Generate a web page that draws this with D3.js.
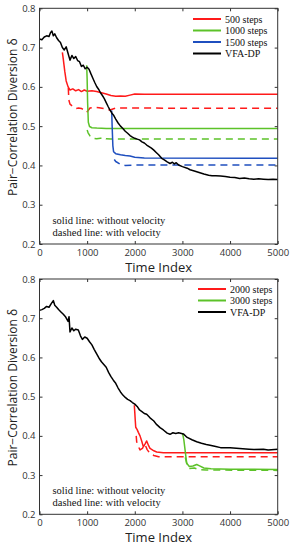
<!DOCTYPE html>
<html>
<head>
<meta charset="utf-8">
<script src="https://cdn.jsdelivr.net/npm/d3@7"></script>
<style>
  body { margin: 0; background: #fff; }
  svg text { font-family: "Open Sans", sans-serif; }
  .serif { font-family: "Liberation Serif", "Times New Roman", serif !important; }
</style>
</head>
<body>
<div id="container"></div>
<script>
// chart size
const width = 294;
const height = 550;

// tick labels
const xTicks = [0, 1000, 2000, 3000, 4000, 5000];
const yTicks = [0.2, 0.3, 0.4, 0.5, 0.6, 0.7, 0.8];

// ---- top panel data ----
const topVfaT = [0, 50, 100, 150, 200, 230, 260, 290, 320, 360, 400, 440, 480, 520, 560, 600, 640, 680, 720, 760, 800, 840, 880, 920, 960, 1000, 1040, 1080, 1120, 1160, 1200, 1240, 1280, 1320, 1360, 1400, 1440, 1480, 1520, 1560, 1600, 1650, 1700, 1750, 1800, 1850, 1900, 1950, 2000, 2050, 2100, 2150, 2200, 2250, 2300, 2350, 2400, 2450, 2500, 2565, 2620, 2680, 2740, 2790, 2830, 2870, 2920, 3000, 3100, 3160, 3250, 3350, 3450, 3550, 3620, 3700, 3800, 3900, 4000, 4100, 4200, 4300, 4400, 4500, 4600, 4700, 4800, 4900, 5000];
const topVfaV = [0.722, 0.72, 0.727, 0.73, 0.728, 0.738, 0.742, 0.73, 0.735, 0.725, 0.718, 0.713, 0.70, 0.694, 0.702, 0.685, 0.668, 0.68, 0.672, 0.677, 0.667, 0.664, 0.652, 0.655, 0.646, 0.65, 0.645, 0.633, 0.622, 0.611, 0.601, 0.594, 0.585, 0.578, 0.57, 0.56, 0.55, 0.541, 0.533, 0.527, 0.518, 0.508, 0.5, 0.494, 0.487, 0.482, 0.476, 0.472, 0.469, 0.467, 0.465, 0.46, 0.457, 0.452, 0.448, 0.444, 0.439, 0.433, 0.427, 0.418, 0.414, 0.409, 0.405, 0.408, 0.404, 0.407, 0.401, 0.397, 0.393, 0.389, 0.386, 0.382, 0.378, 0.375, 0.374, 0.374, 0.373, 0.372, 0.37, 0.369, 0.367, 0.368, 0.366, 0.365, 0.366, 0.365, 0.364, 0.365, 0.364];

const top500SolidT = [480, 500, 530, 560, 600, 640, 700, 760, 820, 880, 940, 1000, 1100, 1200, 1300, 1400, 1500, 1600, 1700, 1800, 1900, 2000, 2200, 5000];
const top500SolidV = [0.688, 0.67, 0.64, 0.615, 0.6, 0.592, 0.595, 0.59, 0.593, 0.588, 0.592, 0.589, 0.59, 0.588, 0.585, 0.582, 0.578, 0.576, 0.577, 0.576, 0.579, 0.582, 0.581, 0.581];
const top500DashT = [605, 615, 640, 700, 760, 820, 880, 940, 990, 1060, 1150, 1250, 1350, 1480, 1600, 1800, 5000];
const top500DashV = [0.597, 0.567, 0.556, 0.55, 0.545, 0.546, 0.545, 0.54, 0.535, 0.546, 0.548, 0.547, 0.545, 0.541, 0.546, 0.546, 0.5455];

const top1000SolidT = [990, 1000, 1010, 1025, 1050, 1100, 1200, 1400, 5000];
const top1000SolidV = [0.655, 0.62, 0.56, 0.51, 0.499, 0.496, 0.495, 0.494, 0.494];
const top1000DashT = [1000, 1020, 1060, 1120, 1200, 1280, 1340, 1400, 1500, 5000];
const top1000DashV = [0.49, 0.483, 0.475, 0.469, 0.468, 0.469, 0.472, 0.468, 0.467, 0.467];

const top1500SolidT = [1515, 1525, 1540, 1555, 1600, 1700, 1800, 1900, 2000, 2200, 5000];
const top1500SolidV = [0.54, 0.5, 0.45, 0.435, 0.43, 0.427, 0.425, 0.424, 0.421, 0.419, 0.418];
const top1500DashT = [1570, 1600, 1700, 1800, 2000, 5000];
const top1500DashV = [0.415, 0.41, 0.403, 0.4, 0.401, 0.401];

// ---- bottom panel data ----
const botVfaT = [0, 50, 100, 150, 200, 250, 290, 320, 360, 400, 450, 500, 550, 600, 620, 640, 680, 720, 760, 815, 860, 900, 950, 1000, 1050, 1100, 1150, 1200, 1250, 1300, 1350, 1400, 1450, 1500, 1550, 1600, 1650, 1700, 1750, 1800, 1850, 1900, 1950, 2000, 2050, 2100, 2150, 2200, 2250, 2320, 2400, 2450, 2530, 2600, 2680, 2740, 2800, 2860, 2920, 3020, 3100, 3200, 3300, 3400, 3500, 3580, 3700, 3800, 4000, 4200, 4400, 4500, 4700, 4800, 5000];
const botVfaV = [0.72, 0.722, 0.725, 0.73, 0.728, 0.738, 0.745, 0.733, 0.728, 0.722, 0.716, 0.71, 0.703, 0.692, 0.704, 0.665, 0.675, 0.668, 0.672, 0.67, 0.655, 0.646, 0.652, 0.649, 0.64, 0.632, 0.62, 0.609, 0.598, 0.589, 0.582, 0.575, 0.562, 0.551, 0.542, 0.534, 0.522, 0.512, 0.504, 0.498, 0.493, 0.49, 0.485, 0.481, 0.475, 0.466, 0.462, 0.457, 0.455, 0.446, 0.438, 0.43, 0.421, 0.415, 0.407, 0.404, 0.408, 0.406, 0.408, 0.405, 0.396, 0.39, 0.385, 0.381, 0.378, 0.376, 0.373, 0.37, 0.37, 0.368, 0.366, 0.365, 0.366, 0.364, 0.366];

const bot2000SolidT = [1990, 2000, 2010, 2020, 2050, 2075, 2110, 2145, 2180, 2220, 2250, 2290, 2320, 2400, 2460, 2600, 5000];
const bot2000SolidV = [0.478, 0.46, 0.44, 0.422, 0.416, 0.409, 0.4, 0.387, 0.372, 0.38, 0.387, 0.375, 0.368, 0.362, 0.359, 0.357, 0.357];
const bot2000DashT = [2030, 2040, 2080, 2110, 2160, 2215, 2260, 2320, 2400, 2500, 5000];
const bot2000DashV = [0.4, 0.385, 0.372, 0.364, 0.368, 0.378, 0.365, 0.355, 0.35, 0.347, 0.347];

const bot3000SolidT = [3005, 3030, 3060, 3090, 3145, 3220, 3300, 3350, 3450, 3600, 4000, 5000];
const bot3000SolidV = [0.405, 0.39, 0.36, 0.33, 0.322, 0.323, 0.327, 0.324, 0.318, 0.316, 0.315, 0.3145];
const bot3000DashT = [3060, 3100, 3150, 3250, 3350, 3500, 5000];
const bot3000DashV = [0.345, 0.325, 0.317, 0.318, 0.314, 0.313, 0.312];

// legends and notes
const topLegend = ["500  steps", "1000 steps", "1500 steps", "VFA-DP"];
const botLegend = ["2000 steps", "3000 steps", "VFA-DP"];
const notes = ["solid line: without velocity", "dashed line: with velocity"];

const colors = { red: "#ff1a1a", green: "#5cc229", blue: "#1f4fbf", black: "#000000" };

const svg = d3.select("#container")
    .append("svg")
    .attr("width", width)
    .attr("height", height);

function drawPanel(top, bottom, series, legend, legendColors, legendX, legendY) {
    const left = 39.5, right = 277.7;

    const xScale = d3.scaleLinear().domain([0, 5000]).range([left, right]);
    const yScale = d3.scaleLinear().domain([0.2, 0.8]).range([bottom, top]);

    const g = svg.append("g");

    // lines
    const line = d3.line()
        .x(d => xScale(d[0]))
        .y(d => yScale(d[1]));

    series.forEach(s => {
        g.append("path")
            .datum(d3.zip(s.t, s.v))
            .attr("fill", "none")
            .attr("stroke", s.color)
            .attr("stroke-width", 1.5)
            .attr("stroke-linejoin", "round")
            .attr("stroke-dasharray", s.dash ? "7,5" : null)
            .attr("d", line);
    });

    // axes (ticks point inward)
    const bottomAxis = d3.axisBottom(xScale).tickValues(xTicks).tickFormat(d3.format("d"))
        .tickSizeInner(-3).tickSizeOuter(0).tickPadding(5);
    const leftAxis = d3.axisLeft(yScale).tickValues(yTicks).tickFormat(d3.format(".1f"))
        .tickSizeInner(-3).tickSizeOuter(0).tickPadding(4);
    const topAxis = d3.axisTop(xScale).tickValues(xTicks).tickFormat("")
        .tickSizeInner(-3).tickSizeOuter(0);
    const rightAxis = d3.axisRight(yScale).tickValues(yTicks).tickFormat("")
        .tickSizeInner(-3).tickSizeOuter(0);

    const axes = [
        [bottomAxis, `translate(0,${bottom})`],
        [leftAxis, `translate(${left},0)`],
        [topAxis, `translate(0,${top})`],
        [rightAxis, `translate(${right},0)`]
    ];
    axes.forEach(([ax, tr]) => {
        const a = g.append("g").attr("transform", tr).call(ax);
        a.select(".domain").remove();
        a.selectAll("line").attr("stroke", "#333");
        a.selectAll("text")
            .attr("fill", "#333")
            .style("font-size", "9.5px")
            .style("font-family", "'Open Sans', sans-serif");
    });

    // frame
    g.append("rect")
        .attr("x", left)
        .attr("y", top)
        .attr("width", right - left)
        .attr("height", bottom - top)
        .attr("fill", "none")
        .attr("stroke", "#333")
        .attr("stroke-width", 1);

    // axis titles
    g.append("text")
        .attr("x", (left + right) / 2)
        .attr("y", bottom + 28)
        .attr("text-anchor", "middle")
        .attr("fill", "#222")
        .style("font-size", "13px")
        .text("Time Index");

    g.append("text")
        .attr("transform", `translate(17,${(top + bottom) / 2 - 9}) rotate(-90)`)
        .attr("text-anchor", "middle")
        .attr("fill", "#222")
        .style("font-size", "12px")
        .text("Pair\u2212Correlation Diversion  \u03b4");

    // legend
    legend.forEach((name, i) => {
        const y = legendY + i * 11.5;
        g.append("line")
            .attr("x1", legendX)
            .attr("x2", legendX + 28)
            .attr("y1", y)
            .attr("y2", y)
            .attr("stroke", legendColors[i])
            .attr("stroke-width", 2);
        g.append("text")
            .attr("class", "serif")
            .attr("x", legendX + 32)
            .attr("y", y + 3.5)
            .attr("fill", "#111")
            .style("font-size", "10px")
            .text(name);
    });

    // notes
    notes.forEach((n, i) => {
        g.append("text")
            .attr("class", "serif")
            .attr("x", 52.5)
            .attr("y", bottom - 20.5 + i * 12.3)
            .attr("fill", "#111")
            .style("font-size", "10.5px")
            .text(n);
    });
}

drawPanel(8.3, 244, [
    { t: top500SolidT, v: top500SolidV, color: colors.red },
    { t: top500DashT, v: top500DashV, color: colors.red, dash: true },
    { t: top1000SolidT, v: top1000SolidV, color: colors.green },
    { t: top1000DashT, v: top1000DashV, color: colors.green, dash: true },
    { t: top1500SolidT, v: top1500SolidV, color: colors.blue },
    { t: top1500DashT, v: top1500DashV, color: colors.blue, dash: true },
    { t: topVfaT, v: topVfaV, color: colors.black }
], topLegend, [colors.red, colors.green, colors.blue, colors.black], 193, 19);

drawPanel(279, 514.3, [
    { t: bot2000SolidT, v: bot2000SolidV, color: colors.red },
    { t: bot2000DashT, v: bot2000DashV, color: colors.red, dash: true },
    { t: bot3000SolidT, v: bot3000SolidV, color: colors.green },
    { t: bot3000DashT, v: bot3000DashV, color: colors.green, dash: true },
    { t: botVfaT, v: botVfaV, color: colors.black }
], botLegend, [colors.red, colors.green, colors.black], 198, 289);
</script>
</body>
</html>
